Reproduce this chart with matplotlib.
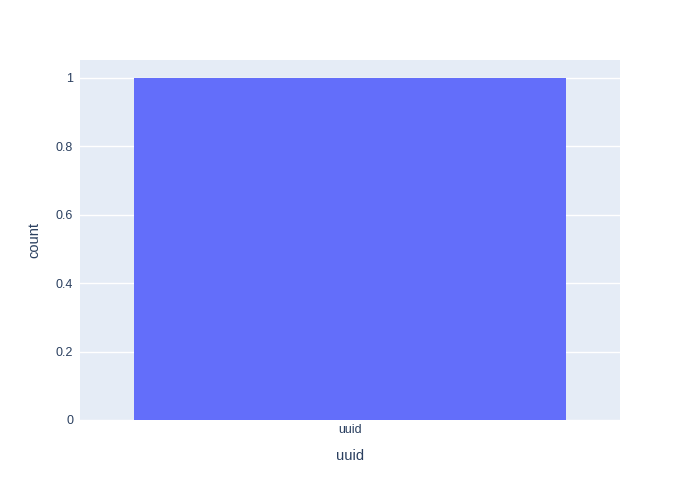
import matplotlib
matplotlib.use("Agg")
import matplotlib.pyplot as plt

categories = ["uuid"]
counts = [1]
y_ticks = [0, 0.2, 0.4, 0.6, 0.8, 1]
y_tick_labels = ["0", "0.2", "0.4", "0.6", "0.8", "1"]

plt.rcParams['font.family'] = ['Liberation Sans', 'DejaVu Sans']
text_color = "#2a3f5f"

fig = plt.figure(figsize=(7, 5), dpi=100)
ax = fig.add_axes([80/700, 80/500, 540/700, 360/500])
ax.set_facecolor("#E5ECF6")

x = list(range(len(categories)))
ax.bar(x, counts, width=0.8, color="#636EFA", zorder=3)
ax.set_xlim(-0.5, len(categories) - 0.5)
ax.set_ylim(0, 1.0526)

ax.set_yticks(y_ticks)
ax.set_yticklabels(y_tick_labels)
ax.set_xticks(x)
ax.set_xticklabels(categories)
ax.grid(axis='y', color='white', linewidth=1, zorder=1)
ax.set_axisbelow(True)
for s in ax.spines.values():
    s.set_visible(False)
ax.tick_params(axis='both', length=0, labelsize=9, colors=text_color, pad=5)
ax.tick_params(axis='x', pad=3)

ax.set_xlabel("uuid", fontsize=10.5, color=text_color, labelpad=9)
ax.set_ylabel("count", fontsize=10.5, color=text_color, labelpad=10)

fig.savefig("out.png", dpi=100, facecolor="white")
